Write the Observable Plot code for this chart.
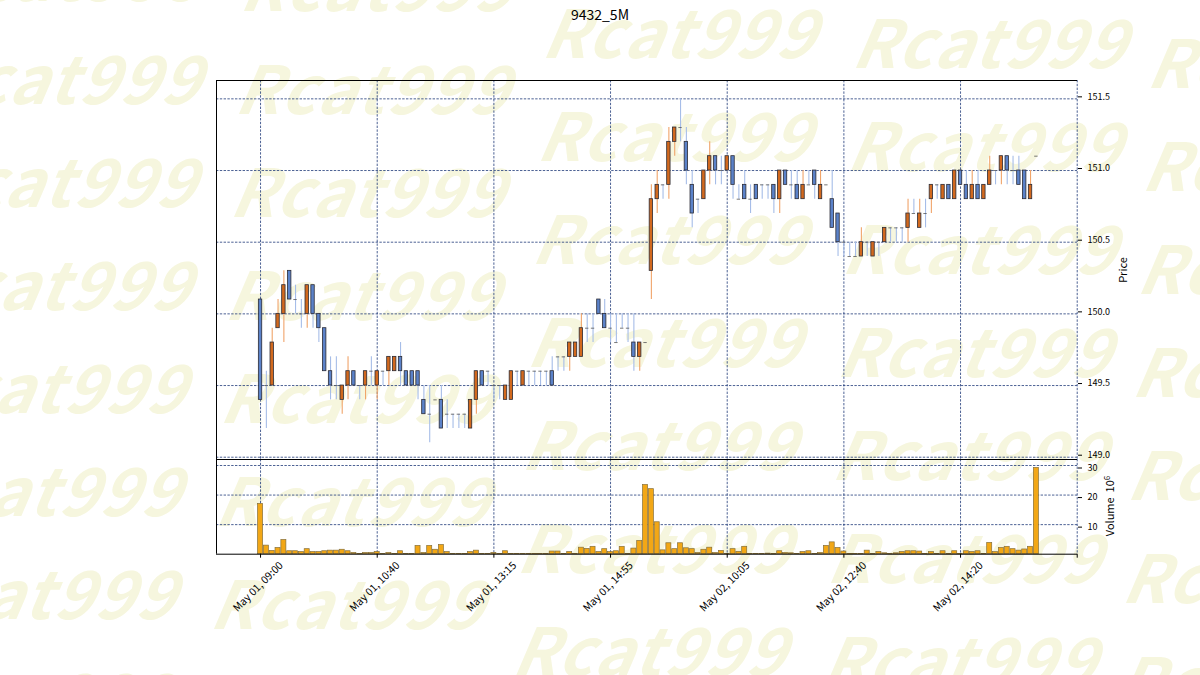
<!DOCTYPE html>
<html>
<head>
<meta charset="utf-8">
<script src="https://cdn.jsdelivr.net/npm/d3@7"></script>
<script src="https://cdn.jsdelivr.net/npm/@observablehq/plot@0.6"></script>
<style>
  html, body { margin: 0; padding: 0; background: #fff; }
  #page { position: relative; width: 1200px; height: 675px; overflow: hidden; font-family: 'Noto Sans CJK JP', 'DejaVu Sans', sans-serif; }
  .wm { position: absolute; font-family: 'Noto Sans CJK JP', sans-serif; font-weight: 700; font-style: italic; font-size: 66px; letter-spacing: 2px; color: #f6f6de; white-space: nowrap; line-height: 1; transform: skewX(-10deg); }
  .plot { position: absolute; left: 0; }
  #title { position: absolute; top: 4px; left: 0; width: 1200px; text-align: center; font-size: 14px; color: #000; }
  .vlab { position: absolute; font-size: 11px; color: #000; transform: translate(-50%, -50%) rotate(-90deg); white-space: nowrap; }
</style>
</head>
<body>
<div id="page">
  <div id="wmlayer"></div>
  <div id="title">9432_5M</div>
  <div id="pricePlot" class="plot" style="top:0px"></div>
  <div id="volPlot" class="plot" style="top:459px"></div>
  <div class="vlab" style="left:1122px; top:270px;">Price</div>
  <div class="vlab" style="left:1109px; top:506px;">Volume&nbsp;&nbsp;10<sup style="font-size:8px">6</sup></div>
</div>
<script>
// ---- data (5-minute bars, 9432, May 01 09:00 .. May 02 15:25) ----
const opens = [
  150.1,149.5,149.5,149.9,150.0,150.3,150.1,150.0,150.0,150.2,
  150.0,149.9,149.6,149.5,149.4,149.5,149.6,149.5,149.5,149.6,
  149.5,149.6,149.6,149.6,149.7,149.6,149.6,149.6,149.4,149.3,
  149.4,149.4,149.3,149.3,149.3,149.3,149.2,149.4,149.6,149.6,
  149.5,149.5,149.4,149.4,149.6,149.5,149.6,149.6,149.6,149.6,
  149.6,149.7,149.7,149.7,149.7,149.7,149.9,149.9,150.1,150.0,
  149.9,149.8,149.9,149.9,149.8,149.7,149.8,150.3,150.8,150.9,
  150.9,151.2,151.3,151.2,150.9,150.8,150.8,151.0,151.1,151.0,
  151.0,151.1,150.8,150.9,150.8,150.9,150.9,150.9,150.9,150.8,
  151.0,150.9,150.9,150.8,150.9,151.0,150.8,150.9,150.8,150.7,
  150.5,150.4,150.4,150.4,150.5,150.4,150.5,150.5,150.6,150.6,
  150.6,150.6,150.7,150.6,150.7,150.8,150.9,150.8,150.9,150.8,
  151.0,150.9,150.8,150.9,150.8,150.9,151.0,151.0,151.1,151.0,
  151.0,151.0,150.8,151.1
];
const highs = [
  150.1,149.6,149.9,150.1,150.3,150.3,150.2,150.1,150.2,150.2,
  150.0,149.9,149.7,149.7,149.5,149.7,149.6,149.5,149.6,149.7,
  149.6,149.6,149.7,149.7,149.8,149.6,149.6,149.6,149.5,149.5,
  149.4,149.5,149.4,149.3,149.3,149.3,149.4,149.6,149.6,149.6,
  149.5,149.5,149.5,149.6,149.6,149.6,149.6,149.6,149.6,149.6,
  149.7,149.7,149.7,149.8,149.8,150.0,150.0,150.0,150.1,150.1,
  150.0,150.0,150.0,150.0,150.0,149.8,149.8,150.9,151.0,150.9,
  151.3,151.3,151.5,151.3,151.0,150.8,151.0,151.2,151.1,151.1,
  151.1,151.1,150.9,151.0,150.9,150.9,150.9,150.9,150.9,151.0,
  151.0,151.0,151.0,151.0,151.0,151.0,151.0,150.9,151.0,150.7,
  150.5,150.5,150.5,150.6,150.5,150.5,150.5,150.6,150.6,150.6,
  150.6,150.8,150.8,150.8,150.8,150.9,150.9,150.9,150.9,151.0,
  151.0,151.0,151.0,151.0,150.9,151.1,151.0,151.1,151.1,151.1,
  151.1,151.0,151.0,151.1
];
const lows = [
  149.4,149.2,149.5,149.9,149.8,150.1,150.0,149.9,149.9,149.9,
  149.8,149.6,149.4,149.4,149.3,149.4,149.5,149.4,149.4,149.5,
  149.4,149.5,149.5,149.6,149.5,149.5,149.5,149.4,149.3,149.1,
  149.4,149.2,149.2,149.2,149.2,149.2,149.2,149.3,149.5,149.5,
  149.4,149.4,149.4,149.4,149.5,149.5,149.5,149.5,149.5,149.5,
  149.5,149.6,149.6,149.6,149.7,149.7,149.8,149.8,150.0,149.9,
  149.8,149.8,149.9,149.8,149.6,149.6,149.8,150.1,150.7,150.8,
  150.8,151.1,151.2,150.9,150.6,150.7,150.8,150.9,150.9,150.9,
  151.0,150.8,150.8,150.8,150.7,150.8,150.8,150.8,150.7,150.7,
  150.9,150.8,150.8,150.8,150.9,150.8,150.8,150.9,150.6,150.4,
  150.4,150.4,150.4,150.4,150.4,150.4,150.4,150.5,150.5,150.5,
  150.5,150.5,150.7,150.6,150.6,150.7,150.8,150.8,150.8,150.8,
  150.9,150.8,150.8,150.8,150.8,150.9,150.9,150.9,150.9,150.9,
  150.9,150.8,150.8,151.1
];
const closes = [
  149.4,149.5,149.8,150.0,150.2,150.1,150.1,150.0,150.2,150.0,
  149.9,149.6,149.5,149.5,149.5,149.6,149.5,149.5,149.6,149.6,
  149.6,149.6,149.7,149.7,149.6,149.5,149.5,149.5,149.3,149.3,
  149.4,149.2,149.3,149.3,149.3,149.3,149.4,149.6,149.5,149.6,
  149.5,149.5,149.5,149.6,149.6,149.6,149.6,149.6,149.6,149.6,
  149.5,149.7,149.7,149.8,149.8,149.9,149.9,149.9,150.0,149.9,
  149.9,149.8,149.9,149.9,149.7,149.8,149.8,150.8,150.9,150.9,
  151.2,151.3,151.3,151.0,150.7,150.8,151.0,151.1,151.0,151.0,
  151.1,150.9,150.8,150.8,150.8,150.8,150.9,150.9,150.8,151.0,
  150.9,150.9,150.8,150.9,150.9,150.9,150.9,150.9,150.6,150.5,
  150.5,150.4,150.4,150.5,150.5,150.5,150.5,150.6,150.6,150.6,
  150.6,150.7,150.7,150.7,150.7,150.9,150.9,150.9,150.8,151.0,
  150.9,150.8,150.9,150.8,150.9,151.0,151.0,151.1,151.0,151.0,
  150.9,150.8,150.9,151.1
];
// volume in units of 10^6 shares
const volumes = [
  17.0,2.9,1.1,2.1,4.8,1.0,1.0,0.7,1.7,0.7,
  0.7,1.0,1.2,1.2,1.5,1.0,0.4,0.1,0.4,0.4,
  0.7,0.1,0.4,0.1,1.0,0.1,0.05,2.8,0.4,2.8,
  1.5,3.1,0.7,0.1,0.1,0.1,0.7,1.2,0.05,0.05,
  0.4,0.1,1.0,0.1,0.05,0.05,0.05,0.05,0.05,0.05,
  0.9,0.9,0.05,0.7,0.05,2.2,1.8,2.5,0.7,1.7,
  0.7,1.0,2.5,0.05,1.9,4.5,23.4,22.0,10.8,1.3,
  3.7,1.7,3.7,2.0,1.7,0.4,1.5,2.2,0.4,1.1,
  0.05,1.7,0.8,2.5,0.05,0.05,0.05,0.2,0.05,1.0,
  0.4,0.3,0.05,0.7,1.0,0.05,0.4,2.8,4.0,2.1,
  0.9,0.05,0.05,0.05,1.2,0.05,0.7,0.3,0.05,0.3,
  0.7,1.0,1.0,0.9,0.05,0.7,0.05,1.0,0.05,1.0,
  0.05,1.0,0.7,1.0,0.05,3.8,0.7,2.1,2.5,1.7,
  1.2,1.6,2.5,29.2
];
const xTickIndex = [0, 20, 40, 60, 80, 100, 120, 140];
const xTickLabels = ["May 01, 09:00","May 01, 10:40","May 01, 13:15","May 01, 14:55","May 02, 10:05","May 02, 12:40","May 02, 14:20"];
const priceTicks = [149.0, 149.5, 150.0, 150.5, 151.0, 151.5];
const volumeTicks = [10, 20, 30];

// ---- styles ----
const xDomain = [-7.55, 140.05];
const priceDomain = [148.984, 151.628];
const volDomain = [0, 32.03];
const gridStyle = {stroke: "#1f3a78", strokeOpacity: 1, strokeWidth: 0.8, strokeDasharray: "2.4,1.4"};
const upFill = "#d2691e", downFill = "#5b82c9";
const upWick = "#f0a46a", downWick = "#a6bde8";
const fontFamily = "'Noto Sans CJK JP', 'DejaVu Sans', sans-serif";

const bars = opens.map((o, i) => ({i, o, h: highs[i], l: lows[i], c: closes[i], v: volumes[i]}));
const isUp = d => d.c > d.o;
const labelTicks = xTickIndex.slice(0, xTickLabels.length).map((t, k) => ({t, label: xTickLabels[k]}));

const pricePlot = Plot.plot({
  width: 1200, height: 460,
  marginTop: 80, marginBottom: 1, marginLeft: 216, marginRight: 123,
  style: {background: "transparent", overflow: "visible", fontFamily, fontSize: "10px", color: "#000"},
  x: {type: "linear", domain: xDomain, axis: null},
  y: {domain: priceDomain, axis: null},
  marks: [
    Plot.gridX(xTickIndex, gridStyle),
    Plot.gridY(priceTicks, gridStyle),
    Plot.ruleX(bars, {x: "i", y1: "l", y2: "h", stroke: d => isUp(d) ? upWick : downWick, strokeWidth: 1.1}),
    Plot.rect(bars.filter(d => d.o !== d.c), {
      x1: d => d.i - 0.29, x2: d => d.i + 0.29, y1: "o", y2: "c",
      fill: d => isUp(d) ? upFill : downFill, stroke: "#2b2b35", strokeWidth: 0.8
    }),
    Plot.ruleY(bars.filter(d => d.o === d.c), {y: "o", x1: d => d.i - 0.29, x2: d => d.i + 0.29, stroke: "#555", strokeWidth: 0.8}),
    Plot.axisY(priceTicks, {anchor: "right", tickFormat: d => d.toFixed(1), tickSize: 4, tickPadding: 6, label: null, fontSize: 9, dy: -2}),
    Plot.ruleX([xDomain[0]], {stroke: "#000", strokeWidth: 1}),
    Plot.ruleY([priceDomain[1]], {stroke: "#000", strokeWidth: 1}),
    Plot.ruleY([priceDomain[0]], {stroke: "#000", strokeWidth: 1})
  ]
});
document.getElementById("pricePlot").appendChild(pricePlot);

const volPlot = Plot.plot({
  width: 1200, height: 216,
  marginTop: 0, marginBottom: 121.3, marginLeft: 216, marginRight: 123,
  style: {background: "transparent", overflow: "visible", fontFamily, fontSize: "10px", color: "#000"},
  x: {type: "linear", domain: xDomain, axis: null},
  y: {domain: volDomain, axis: null},
  marks: [
    Plot.gridX(xTickIndex, gridStyle),
    Plot.gridY(volumeTicks, gridStyle),
    Plot.rect(bars, {x1: d => d.i - 0.43, x2: d => d.i + 0.43, y1: 0, y2: "v", fill: "#f2a716", stroke: "#86703a", strokeWidth: 0.7}),
    Plot.axisY(volumeTicks, {anchor: "right", tickSize: 4, tickPadding: 6, label: null, fontSize: 9, dy: 2.5}),
    Plot.axisX(xTickIndex, {anchor: "bottom", tickSize: 4, tickFormat: () => "", label: null}),
    Plot.text(labelTicks, {x: "t", text: "label", frameAnchor: "bottom", dy: 35, rotate: -45, textAnchor: "middle", fontSize: 10.5, fill: "#000"}),
    Plot.ruleX([xDomain[0]], {stroke: "#000", strokeWidth: 1}),
    Plot.ruleY([volDomain[1]], {stroke: "#000", strokeWidth: 1}),
    Plot.ruleY([volDomain[0]], {stroke: "#000", strokeWidth: 1})
  ]
});
document.getElementById("volPlot").appendChild(volPlot);

// ---- watermark (decorative, layout only) ----
const wmLayer = document.getElementById("wmlayer");
const colX = [-70, 238, 545, 855, 1150];
const colY = [42, 52, -4, 6, 26];
colX.forEach((cx, k) => {
  for (let r = -1; r < 8; r++) {
    const el = document.createElement("div");
    el.className = "wm";
    el.textContent = "Rcat999";
    el.style.left = (cx - r * 5) + "px";
    el.style.top = (colY[k] + r * 103) + "px";
    wmLayer.appendChild(el);
  }
});
</script>
</body>
</html>
